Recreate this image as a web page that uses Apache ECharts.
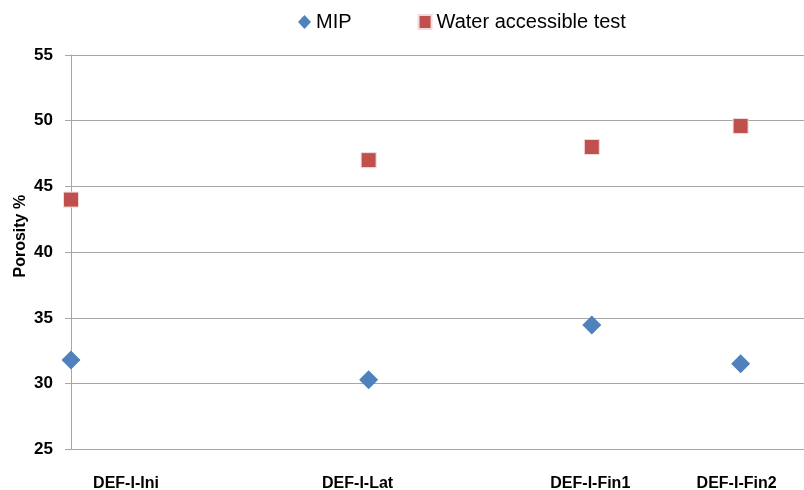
<!DOCTYPE html>
<html>
<head>
<meta charset="utf-8">
<script src="https://cdn.jsdelivr.net/npm/echarts@6/dist/echarts.min.js"></script>
<style>html,body{margin:0;padding:0;background:#fff}#c{width:804px;height:490px}</style>
</head>
<body>
<div id="c"></div>
<script>
const sampleNames = ['DEF-I-Ini', 'DEF-I-Lat', 'DEF-I-Fin1', 'DEF-I-Fin2'];
const sampleX = [0, 4, 7, 9];
const mipValues = [31.8, 30.3, 34.45, 31.5];
const waterValues = [44.0, 47.0, 48.0, 49.6];
const yTicks = [25, 30, 35, 40, 45, 50, 55];

const FONT = "'Liberation Sans', Arial, sans-serif";
const labelPad = {
  'DEF-I-Ini': [0, 0, 0, 110],
  'DEF-I-Lat': [0, 22, 0, 0],
  'DEF-I-Fin1': [0, 3, 0, 0],
  'DEF-I-Fin2': [0, 8, 0, 0]
};
const rich = {};
sampleNames.forEach((n, i) => {
  rich['l' + i] = { padding: labelPad[n], fontWeight: 'bold', fontSize: 16, fontFamily: FONT, color: '#000' };
});

const chart = echarts.init(document.getElementById('c'), null, { renderer: 'canvas' });
chart.setOption({
  animation: false,
  backgroundColor: '#fff',
  legend: {
    left: 293, top: 7,
    itemGap: 66,
    itemWidth: 13, itemHeight: 14,
    textStyle: { fontFamily: FONT, fontSize: 20, color: '#000' },
    data: [
      { name: 'MIP', icon: 'diamond' },
      { name: 'Water accessible test', icon: 'rect' }
    ]
  },
  grid: { left: 71, top: 55, right: -11, bottom: 40.7, outerBoundsMode: 'none', containLabel: false },
  xAxis: {
    type: 'value', min: 0, max: 10,
    splitLine: { show: false },
    axisTick: { show: false },
    axisLine: { show: true, lineStyle: { color: '#a6a6a6', width: 1 } },
    axisLabel: {
      customValues: sampleX,
      margin: 26,
      formatter: v => { const i = sampleX.indexOf(v); return i < 0 ? '' : '{l' + i + '|' + sampleNames[i] + '}'; },
      rich: rich
    }
  },
  yAxis: {
    type: 'value', min: yTicks[0], max: yTicks[yTicks.length - 1], interval: 5,
    name: 'Porosity %', nameLocation: 'middle', nameGap: 42, nameRotate: 90, nameMoveOverlap: false,
    nameTextStyle: { fontFamily: FONT, fontWeight: 'bold', fontSize: 16, color: '#000', padding: [0, 0, 0, 32] },
    axisLine: { show: true, lineStyle: { color: '#a6a6a6', width: 1 } },
    axisTick: { show: true, length: 6, lineStyle: { color: '#a6a6a6' } },
    splitLine: { show: true, lineStyle: { color: '#a6a6a6', width: 1 } },
    axisLabel: { margin: 18, fontFamily: FONT, fontWeight: 'bold', fontSize: 17, color: '#000' }
  },
  series: [
    {
      name: 'MIP', type: 'scatter', symbol: 'diamond', symbolSize: 19,
      itemStyle: { color: '#4f81bd', opacity: 1 },
      data: sampleX.map((x, i) => [x, mipValues[i]])
    },
    {
      name: 'Water accessible test', type: 'scatter', symbol: 'rect', symbolSize: 15,
      itemStyle: { color: '#c0504d', borderColor: '#f2dcdb', borderWidth: 1, opacity: 1 },
      data: sampleX.map((x, i) => [x, waterValues[i]])
    }
  ]
});
</script>
</body>
</html>
